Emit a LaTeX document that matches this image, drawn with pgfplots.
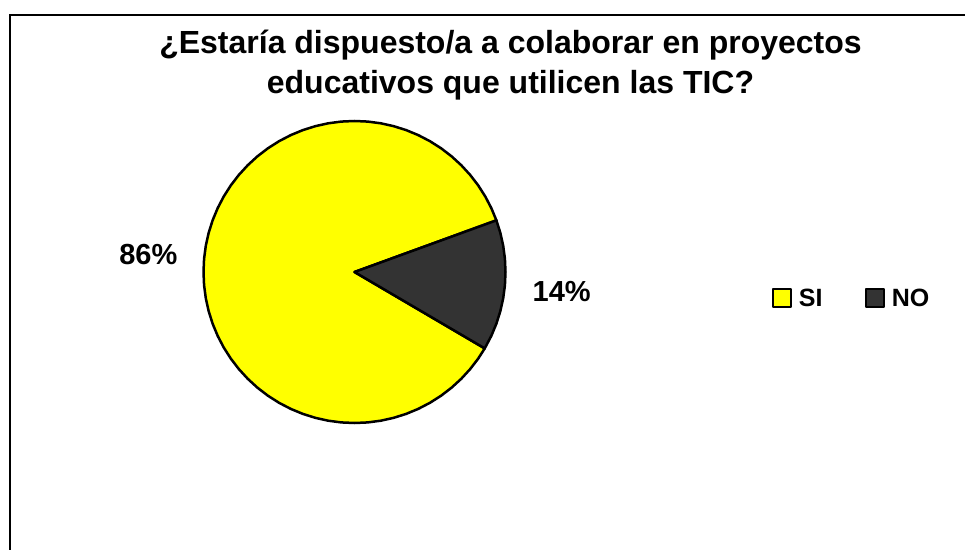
\documentclass[border=0pt]{standalone}
\usepackage{pgfplots}
\pgfplotsset{compat=1.18}
\usepackage{fontspec}
\setmainfont{Liberation Sans}
\definecolor{siyellow}{HTML}{FFFF00}
\definecolor{nodark}{HTML}{333333}
\begin{document}
\begin{tikzpicture}
\begin{axis}[
  at={(0,0)}, anchor=south west,
  x=1pt, y=1pt,
  xmin=-354.5, xmax=610.5, ymin=-277, ymax=272,
  hide axis, clip=false,
  legend columns=2,
  legend style={at={(axis cs:417,-26.3)}, anchor=west, draw=none, fill=none,
    inner sep=0pt, font=\fontsize{25}{28}\selectfont\bfseries,
    /tikz/every even column/.append style={column sep=40pt}},
  legend image code/.code={\draw[#1, line width=2pt] (0pt,-9pt) rectangle (18pt,9pt); \path (23pt,0pt);},
]
% SI 86%
\addplot[data cs=polar, fill=siyellow, draw=black, line width=2.5pt, line join=round] coordinates {
(0,0) (20,151) (25,151) (30,151) (35,151) (40,151) (45,151) (50,151) (55,151) (60,151)
(65,151) (70,151) (75,151) (80,151) (85,151) (90,151) (95,151) (100,151) (105,151) (110,151)
(115,151) (120,151) (125,151) (130,151) (135,151) (140,151) (145,151) (150,151) (155,151) (160,151)
(165,151) (170,151) (175,151) (180,151) (185,151) (190,151) (195,151) (200,151) (205,151) (210,151)
(215,151) (220,151) (225,151) (230,151) (235,151) (240,151) (245,151) (250,151) (255,151) (260,151)
(265,151) (270,151) (275,151) (280,151) (285,151) (290,151) (295,151) (300,151) (305,151) (310,151)
(315,151) (320,151) (325,151) (329.6,151) (0,0)
} \closedcycle;
\addlegendentry{SI}
% NO 14%
\addplot[data cs=polar, fill=nodark, draw=black, line width=2.5pt, line join=round] coordinates {
(0,0) (-30.4,151) (-25,151) (-20,151) (-15,151) (-10,151) (-5,151) (0,151) (5,151) (10,151) (15,151) (20,151) (0,0)
} \closedcycle;
\addlegendentry{NO}
\draw[line width=2pt] (axis cs:-345,-400) -- (axis cs:-345,256.5) -- (axis cs:800,256.5);
\node[anchor=base, font=\fontsize{32}{36}\selectfont\bfseries] at (axis cs:156,218) {¿Estaría dispuesto/a a colaborar en proyectos};
\node[anchor=base, font=\fontsize{32}{36}\selectfont\bfseries] at (axis cs:156,178) {educativos que utilicen las TIC?};
\node[anchor=base, font=\fontsize{29}{34}\selectfont\bfseries] at (axis cs:-206.2,7) {86\%};
\node[anchor=base, font=\fontsize{29}{34}\selectfont\bfseries] at (axis cs:207.2,-29.7) {14\%};
\end{axis}
\pgfresetboundingbox
\useasboundingbox (0,0) rectangle (965pt,549pt);
\end{tikzpicture}
\end{document}
